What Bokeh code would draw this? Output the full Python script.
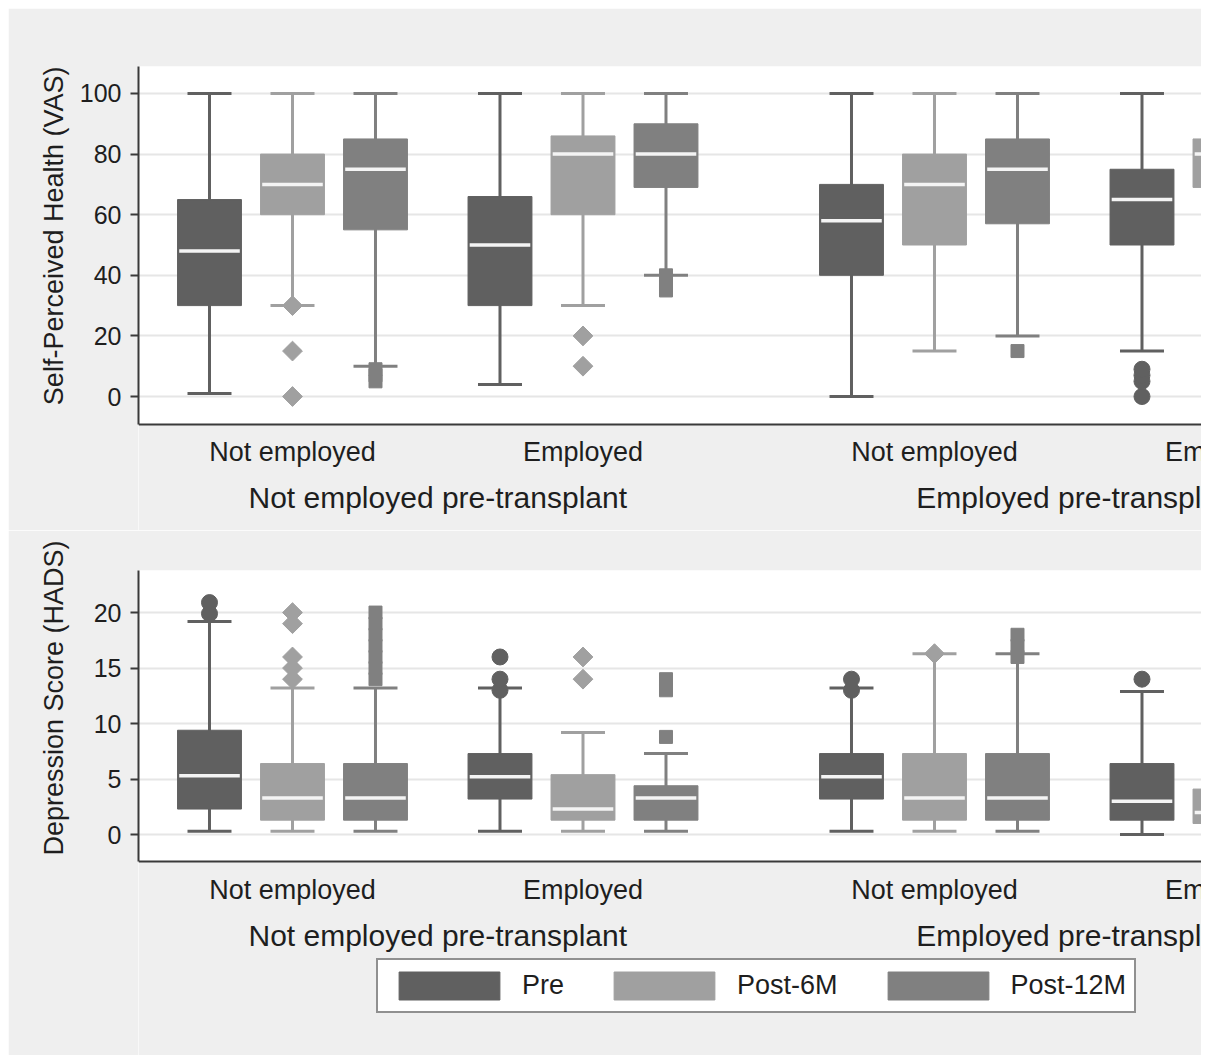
import numpy as np
from bokeh.plotting import figure
from bokeh.layouts import column
from bokeh.models import (Label, Legend, LegendItem, FixedTicker, Range1d, BoxAnnotation, Title)
from bokeh.embed import file_html
from bokeh.resources import INLINE

# ---------------- data ----------------
groups = ["Not employed pre-transplant", "Employed pre-transplant"]
subgroups = ["Not employed", "Employed"]
series = ["Pre", "Post-6M", "Post-12M"]

# cell order: (grp0,sub0), (grp0,sub1), (grp1,sub0), (grp1,sub1); inside each cell: Pre, Post-6M, Post-12M
vas_low  = [1, 30, 10,    4, 30, 40,    0, 15, 20,    15, 50, 45]
vas_q1   = [30, 60, 55,   30, 60, 69,   40, 50, 57,   50, 69, 70]
vas_med  = [48, 70, 75,   50, 80, 80,   58, 70, 75,   65, 80, 80]
vas_q3   = [65, 80, 85,   66, 86, 90,   70, 80, 85,   75, 85, 90]
vas_high = [100, 100, 100, 100, 100, 100, 100, 100, 100, 100, 100, 100]
vas_out  = [[], [0, 15, 30], [5, 7, 9],
            [], [10, 20], [35, 37, 40],
            [], [], [15],
            [0, 5, 7, 9], [], []]
vas_ticks = [0, 20, 40, 60, 80, 100]

hads_low  = [0.3, 0.3, 0.3,   0.3, 0.3, 0.3,   0.3, 0.3, 0.3,   0.0, 0.0, 0.0]
hads_q1   = [2.3, 1.3, 1.3,   3.2, 1.3, 1.3,   3.2, 1.3, 1.3,   1.3, 1.0, 1.0]
hads_med  = [5.3, 3.3, 3.3,   5.2, 2.3, 3.3,   5.2, 3.3, 3.3,   3.0, 2.0, 3.0]
hads_q3   = [9.4, 6.4, 6.4,   7.3, 5.4, 4.4,   7.3, 7.3, 7.3,   6.4, 4.1, 5.0]
hads_high = [19.2, 13.2, 13.2, 13.2, 9.2, 7.3, 13.2, 16.3, 16.3, 12.9, 9.0, 11.0]
hads_out  = [[19.9, 20.9], [14, 15, 16, 19, 20], [14, 15, 16, 17, 18, 19, 20],
             [13, 14, 16], [14, 16], [8.8, 13, 14],
             [13, 14], [16.3], [16, 17, 18],
             [14], [], []]
hads_ticks = [0, 5, 10, 15, 20]

# ---------------- style ----------------
colors = ["#606060", "#a0a0a0", "#808080"]
FONT = "Liberation Sans"
TXT = "#1e1e1e"
BG = "#efefef"
AXC = "#3a3a3a"
SUB_OFF = 3.5      # distance between subgroups (in box slots)
GRP_OFF = 7.735    # distance between groups (in box slots)
BOX_W = 0.77
CAP_W = 0.53

W = 1193
LEFT = 130


def positions():
    xs = []
    for c in range(4):
        g, s = divmod(c, 2)
        for k in range(3):
            xs.append(g * GRP_OFF + s * SUB_OFF + k)
    return xs


def make_panel(height, top, xr, yr, y_axis_lo, ticks, ytitle, title_standoff, title_offset,
               low, q1, med, q3, high, outs, sub_y, grp_y):
    # the frame extends below the plotting area so the category labels and legend
    # can live inside it; the plotting area itself is the white part above y_axis_lo
    p = figure(width=W, height=height, x_range=Range1d(*xr), y_range=Range1d(*yr),
               output_backend="svg", toolbar_location=None,
               min_border_left=LEFT, min_border_right=0,
               min_border_top=top, min_border_bottom=0)
    p.background_fill_color = "white"
    p.border_fill_color = BG
    p.outline_line_color = None

    p.add_layout(BoxAnnotation(top=y_axis_lo, fill_color=BG, fill_alpha=1.0,
                               line_color=None, level="underlay"))

    p.xgrid.visible = False
    p.ygrid.ticker = FixedTicker(ticks=ticks)
    p.ygrid.grid_line_color = "#e6e6e6"
    p.ygrid.grid_line_width = 2

    ya = p.yaxis[0]
    ya.bounds = (y_axis_lo, yr[1])
    ya.ticker = FixedTicker(ticks=ticks)
    ya.axis_line_color = AXC
    ya.axis_line_width = 2
    ya.major_tick_line_color = AXC
    ya.major_tick_line_width = 2
    ya.major_tick_out = 8
    ya.major_tick_in = 0
    ya.minor_tick_out = 0
    ya.minor_tick_in = 0
    ya.major_label_standoff = 9
    ya.major_label_text_font = FONT
    ya.major_label_text_font_size = "25px"
    ya.major_label_text_color = TXT

    # y title anchored at the top of the plotting area
    p.add_layout(Title(text=ytitle, align="right", vertical_align="bottom",
                       offset=title_offset, standoff=title_standoff,
                       text_font=FONT, text_font_size="27px", text_font_style="normal",
                       text_color=TXT), "left")

    p.xaxis.visible = False
    # bottom axis line of the plotting area
    p.segment(x0=[xr[0]], y0=[y_axis_lo], x1=[xr[1]], y1=[y_axis_lo],
              line_color=AXC, line_width=2)

    xs = positions()
    box_renderers = []
    for k in range(3):
        idx = [c * 3 + k for c in range(4)]
        x = [xs[i] for i in idx]
        col = colors[k]
        lo = [low[i] for i in idx]
        hi = [high[i] for i in idx]
        p.segment(x0=x, y0=lo, x1=x, y1=hi, line_color=col, line_width=3)
        p.segment(x0=[v - CAP_W / 2 for v in x], y0=hi, x1=[v + CAP_W / 2 for v in x], y1=hi,
                  line_color=col, line_width=3)
        p.segment(x0=[v - CAP_W / 2 for v in x], y0=lo, x1=[v + CAP_W / 2 for v in x], y1=lo,
                  line_color=col, line_width=3)
        r = p.vbar(x=x, width=BOX_W, bottom=[q1[i] for i in idx], top=[q3[i] for i in idx],
                   fill_color=col, line_color=col, line_width=1)
        box_renderers.append(r)
        p.segment(x0=[v - BOX_W / 2 + 0.02 for v in x], y0=[med[i] for i in idx],
                  x1=[v + BOX_W / 2 - 0.02 for v in x], y1=[med[i] for i in idx],
                  line_color="#f4f4f4", line_width=3.5)

    for k in range(3):
        ox, oy = [], []
        for c in range(4):
            i = c * 3 + k
            for v in outs[i]:
                ox.append(xs[i])
                oy.append(v)
        if k == 0:
            p.scatter(ox, oy, marker="circle", size=16, fill_color=colors[k], line_color=colors[k])
        elif k == 1:
            p.scatter(ox, oy, marker="square", angle=np.pi / 4, size=14,
                      fill_color=colors[k], line_color=colors[k])
        else:
            p.scatter(ox, oy, marker="square", size=13, fill_color=colors[k], line_color=colors[k])

    # category labels below the plotting area
    for c in range(4):
        g, s = divmod(c, 2)
        p.add_layout(Label(x=g * GRP_OFF + s * SUB_OFF + 1, y=sub_y, text=subgroups[s],
                           text_align="center", text_baseline="middle",
                           text_font=FONT, text_font_size="27px", text_color=TXT))
    for g in range(2):
        p.add_layout(Label(x=g * GRP_OFF + (SUB_OFF + 2) / 2, y=grp_y, text=groups[g],
                           text_align="center", text_baseline="middle",
                           text_font=FONT, text_font_size="30px", text_color=TXT))
    return p, box_renderers


XR = (-0.8554, 11.952)

# top panel: plotting area 138..1201 x, 66..424 y (page coordinates); canvas 8..530
p1, _ = make_panel(height=522, top=58,
                   xr=XR, yr=(-44.22, 108.91), y_axis_lo=-9.24, ticks=vas_ticks,
                   ytitle="Self-Perceived Health (VAS)", title_standoff=16, title_offset=0,
                   low=vas_low, q1=vas_q1, med=vas_med, q3=vas_q3, high=vas_high, outs=vas_out,
                   sub_y=-18.15, grp_y=-33.3)

# bottom panel: plotting area 138..1201 x, 570..861 y; canvas 530..1055
p2, boxes = make_panel(height=525, top=40,
                       xr=XR, yr=(-19.9, 23.79), y_axis_lo=-2.43, ticks=hads_ticks,
                       ytitle="Depression Score (HADS)", title_standoff=44, title_offset=-30,
                       low=hads_low, q1=hads_q1, med=hads_med, q3=hads_q3, high=hads_high,
                       outs=hads_out, sub_y=-4.95, grp_y=-9.1)

legend = Legend(items=[LegendItem(label=series[k], renderers=[boxes[k]]) for k in range(3)],
                location=(238, 42), orientation="horizontal",
                glyph_width=126, glyph_height=35, label_standoff=10, spacing=37,
                padding=8, margin=0,
                border_line_color="#222222", border_line_width=2,
                background_fill_color="white", background_fill_alpha=1.0,
                label_text_font=FONT, label_text_font_size="27px", label_text_color=TXT)
p2.add_layout(legend)

layout = column(p1, p2, spacing=0, margin=(8, 0, 0, 8))
open("out.html", "w").write(file_html(layout, INLINE))
